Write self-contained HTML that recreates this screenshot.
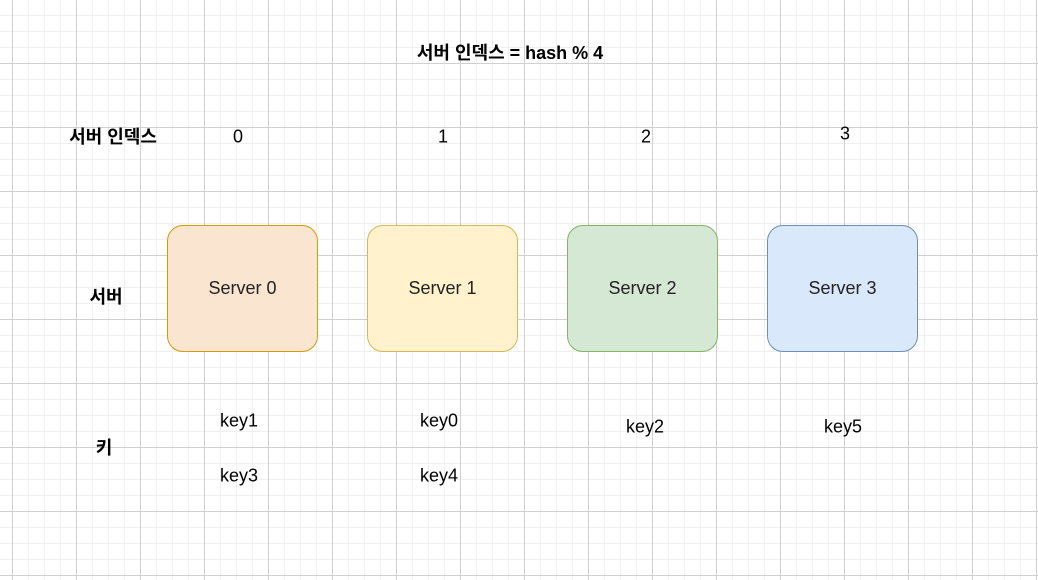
<!DOCTYPE html><html><head><style>
body{margin:0;width:1038px;height:580px;overflow:hidden;background:#fff;
background-image:linear-gradient(#d0d0d0 1px,transparent 1px),linear-gradient(90deg,#d0d0d0 1px,transparent 1px),linear-gradient(#efefef 1px,transparent 1px),linear-gradient(90deg,#efefef 1px,transparent 1px);
background-size:64px 64px,64px 64px,16px 16px,16px 16px;background-position:12px -1px,12px -1px,12px -1px,12px -1px;
font-family:"Liberation Sans","Noto Sans CJK KR",sans-serif;position:relative}
.t{position:absolute;transform:translate(-50%,-50%);white-space:nowrap;font-size:18px;color:#000}
.b{font-weight:bold}
.s{position:absolute;top:225px;width:149px;height:125px;border-radius:16px;border:1.5px solid;display:flex;align-items:center;justify-content:center;font-size:18px;color:#222}
</style></head><body>
<div class="t b" style="left:510px;top:52px">서버 인덱스 = hash % 4</div>
<div class="t b" style="left:113px;top:136px">서버 인덱스</div>
<div class="t" style="left:238px;top:137px">0</div>
<div class="t" style="left:443px;top:137px">1</div>
<div class="t" style="left:646px;top:137px">2</div>
<div class="t" style="left:845px;top:134px">3</div>
<div class="t b" style="left:106px;top:296px">서버</div>
<div class="t b" style="left:104px;top:447px">키</div>
<div class="s" style="left:167px;background:#fae6d0;border-color:#d79b00">Server 0</div>
<div class="s" style="left:367px;background:#fff2cc;border-color:#d6b656">Server 1</div>
<div class="s" style="left:567px;background:#d5e8d4;border-color:#82b366">Server 2</div>
<div class="s" style="left:767px;background:#dae8fc;border-color:#6c8ebf">Server 3</div>
<div class="t" style="left:239px;top:421px">key1</div>
<div class="t" style="left:239px;top:476px">key3</div>
<div class="t" style="left:439px;top:421px">key0</div>
<div class="t" style="left:439px;top:476px">key4</div>
<div class="t" style="left:645px;top:427px">key2</div>
<div class="t" style="left:843px;top:427px">key5</div>
</body></html>
